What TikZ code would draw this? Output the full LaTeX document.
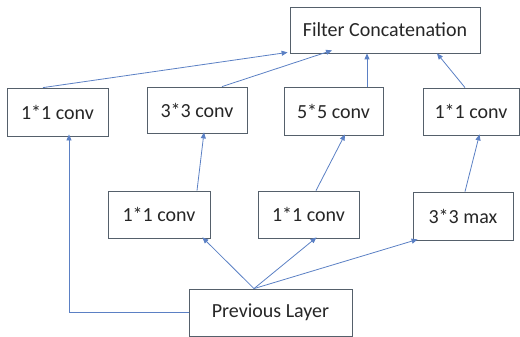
\documentclass[tikz,border=0pt]{standalone}
\usepackage{fontspec}
\setmainfont{Carlito}
\usetikzlibrary{arrows.meta,calc}
\definecolor{boxc}{HTML}{55606B}
\definecolor{arrc}{HTML}{5B80C4}
\begin{document}
\begin{tikzpicture}[x=1pt,y=-1pt,
  blk/.style={draw=boxc,line width=0.8pt,rectangle,inner sep=0pt,font=\fontsize{20}{24}\selectfont,text=black!85},
  arr/.style={draw=arrc,line width=0.8pt,-{Triangle[length=6pt,width=5pt]}}]
\useasboundingbox (0,0) rectangle (520,337);
\node[blk,minimum width=190pt,minimum height=46pt] (fc) at (385,30) {Filter Concatenation};
\node[blk,minimum width=101pt,minimum height=48pt] (a1) at (57.5,112) {1*1 conv};
\node[blk,minimum width=100pt,minimum height=46pt] (a2) at (197,110) {3*3 conv};
\node[blk,minimum width=99pt,minimum height=48pt] (a3) at (333.5,111) {5*5 conv};
\node[blk,minimum width=96pt,minimum height=47pt] (a4) at (471,111.5) {1*1 conv};
\node[blk,minimum width=102pt,minimum height=47pt] (b1) at (159,214.5) {1*1 conv};
\node[blk,minimum width=101pt,minimum height=47pt] (b2) at (308.5,214.5) {1*1 conv};
\node[blk,minimum width=100pt,minimum height=48pt] (b3) at (463,216) {3*3 max};
\node[blk,minimum width=163pt,minimum height=47pt] (pl) at (270.5,312.5) {Previous Layer};
\coordinate (pls) at ([xshift=-16.5pt]pl.north);
\coordinate (a1b) at ([xshift=11.5pt,yshift=2pt]a1.south);
% from previous layer
\draw[arr] (pls) -- ([xshift=-8pt,yshift=1pt]b1.south east);
\draw[arr] (pls) -- ([xshift=8pt,yshift=1pt]b2.south);
\draw[arr] (pls) -- ([xshift=5pt,yshift=1pt]b3.south west);
\draw[arr] (pl.west) -- (pl.west -| a1b) -- (a1b);
% middle row
\draw[arr] ([xshift=38pt]b1.north) -- ([xshift=7pt,yshift=1pt]a2.south);
\draw[arr] ([xshift=7.5pt]b2.north) -- ([xshift=11.5pt,yshift=1pt]a3.south);
\draw[arr] ([xshift=2pt]b3.north) -- ([xshift=8.5pt,yshift=1pt]a4.south);
% top row
\draw[arr] ([xshift=-14.5pt]a1.north) -- ([xshift=-2pt,yshift=1pt]fc.south west);
\draw[arr] ([xshift=25pt]a2.north) -- ([xshift=-53pt,yshift=3pt]fc.south);
\draw[arr] ([xshift=33.5pt]a3.north) -- ([xshift=-18pt]fc.south);
\draw[arr] ([xshift=-6pt]a4.north) -- ([xshift=52pt]fc.south);
\end{tikzpicture}
\end{document}
